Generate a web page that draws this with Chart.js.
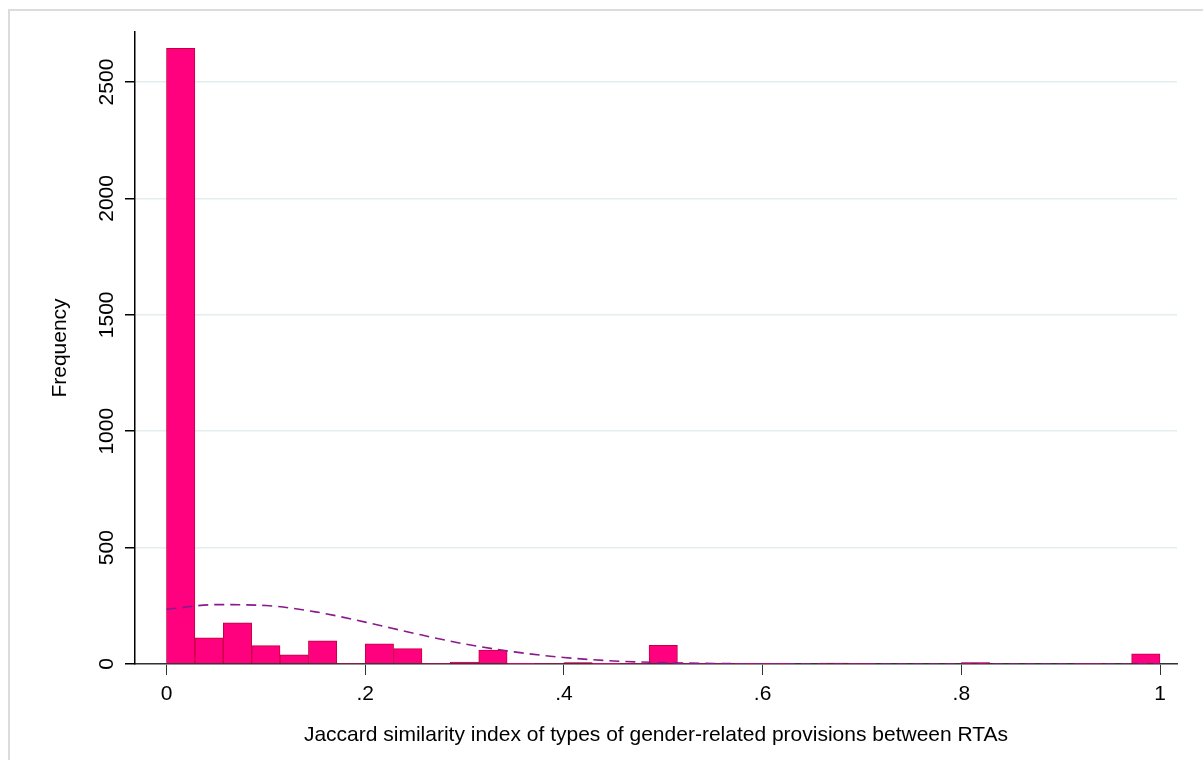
<!DOCTYPE html>
<html>
<head>
<meta charset="utf-8">
<script src="https://cdn.jsdelivr.net/npm/chart.js@4.4.1/dist/chart.umd.min.js"></script>
<style>
	html, body { margin: 0; padding: 0; background: #fff; }
	#wrap { position: relative; width: 1203px; height: 760px; }
	#frame {
		position: absolute; left: 8px; top: 9px; right: 0; bottom: 0;
		border-left: 2px solid #dcdcdc; border-top: 2px solid #dcdcdc;
	}
	canvas { position: absolute; left: 0; top: 0; }
</style>
</head>
<body>
<div id="wrap">
	<div id="frame"></div>
	<canvas id="histChart" width="1203" height="760"></canvas>
</div>
<script>
// histogram: 35 bins over [0, 1]
const binWidth = 1 / 35;
const counts = [2645, 112, 177, 79, 39, 99, 3, 87, 66, 3, 8, 60, 1, 3, 6, 1, 3, 80,
	3, 3, 1, 1, 0, 4, 2, 0, 0, 0, 6, 0, 0, 0, 2, 0, 44];

// normal density overlay (in frequency units)
const densityX = [0, .05, .1, .15, .2, .25, .3, .35, .4, .45, .5, .55, .6, .65, .7, .75, .8, .85, .9, .95, 1];
const densityY = [235, 255, 251, 224, 180, 131, 86, 52, 28, 13, 6, 2.3, 0.8, 0.3, 0.1, 0, 0, 0, 0, 0, 0];

const xTicks = [0, .2, .4, .6, .8, 1];
const xTickLabels = ["0", ".2", ".4", ".6", ".8", "1"];
const yTicks = [0, 500, 1000, 1500, 2000, 2500];

const FONT = "'Liberation Sans', Arial, sans-serif";
const FONT_SIZE = 21;

const barData = counts.map((c, i) => ({ x: (i + 0.5) * binWidth, y: c }));
const lineData = densityX.map((x, i) => ({ x: x, y: densityY[i] }));

// y tick labels are rotated like Stata's, draw them centred on the ticks
const rotatedYLabels = {
	id: "rotatedYLabels",
	afterDraw(chart) {
		const ctx = chart.ctx;
		const yScale = chart.scales.y;
		ctx.save();
		ctx.fillStyle = "#000";
		ctx.font = FONT_SIZE + "px " + FONT;
		ctx.textAlign = "center";
		ctx.textBaseline = "middle";
		yScale.ticks.forEach(t => {
			const py = yScale.getPixelForValue(t.value);
			ctx.save();
			ctx.translate(107, py);
			ctx.rotate(-Math.PI / 2);
			ctx.fillText(String(t.value), 0, 0);
			ctx.restore();
		});
		ctx.restore();
	}
};

const ctx = document.getElementById("histChart").getContext("2d");
new Chart(ctx, {
	type: "bar",
	data: {
		datasets: [{
			type: "line",
			label: "Density",
			data: lineData,
			borderColor: "#8a1a8c",
			borderWidth: 1.6,
			borderDash: [10, 6],
			pointRadius: 0,
			fill: false,
			cubicInterpolationMode: "monotone",
			order: 0,
		}, {
			type: "bar",
			label: "Frequency",
			data: barData,
			backgroundColor: "#ff007f",
			borderColor: "#c4003e",
			borderWidth: 1,
			borderSkipped: "start",
			barPercentage: 1,
			categoryPercentage: 1,
			order: 1,
		}],
	},
	options: {
		responsive: false,
		animation: false,
		layout: { padding: { left: 0, top: 32, right: 26, bottom: 0 } },
		plugins: {
			legend: { display: false },
			tooltip: { enabled: false },
		},
		scales: {
			x: {
				type: "linear",
				offset: false,
				min: -0.0317,
				max: 1.0171,
				afterBuildTicks: s => { s.ticks = xTicks.map(v => ({ value: v })); },
				afterFit: s => { s.height = 96; },
				ticks: {
					color: "#000",
					font: { family: FONT, size: FONT_SIZE },
					padding: 7,
					maxRotation: 0,
					autoSkip: false,
					callback: (v) => xTickLabels[xTicks.indexOf(v)],
				},
				grid: {
					offset: false,
					drawOnChartArea: false,
					drawTicks: true,
					tickLength: 11,
					tickColor: "#333",
				},
				border: { color: "#333", width: 1.5 },
				title: {
					display: true,
					text: "Jaccard similarity index of types of gender-related provisions between RTAs",
					color: "#000",
					font: { family: FONT, size: FONT_SIZE },
					padding: { top: 0, bottom: 12 },
				},
			},
			y: {
				type: "linear",
				min: 0,
				max: 2715,
				afterBuildTicks: s => { s.ticks = yTicks.map(v => ({ value: v })); },
				afterFit: s => { s.width = 135; },
				ticks: { display: false },
				grid: {
					color: "#e3eef0",
					lineWidth: 1.5,
					drawTicks: true,
					tickLength: 10,
					tickColor: "#000",
				},
				border: { color: "#000", width: 1.5 },
				title: {
					display: true,
					text: "Frequency",
					color: "#000",
					font: { family: FONT, size: FONT_SIZE },
					padding: { top: 48, bottom: 0 },
				},
			},
		},
	},
	plugins: [rotatedYLabels],
});
</script>
</body>
</html>
